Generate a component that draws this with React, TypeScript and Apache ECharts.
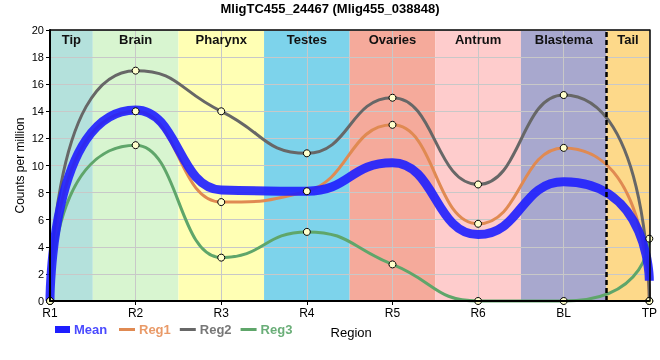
import React, { useEffect, useRef } from 'react';
import * as echarts from 'echarts';

const categories = ['R1', 'R2', 'R3', 'R4', 'R5', 'R6', 'BL', 'TP'];
const meanValues = [0, 14.1, 8.2, 8.1, 10.2, 4.9, 8.8, 1.5];
const reg1Values = [0, 14.0, 7.3, 8.1, 13.0, 5.7, 11.3, 0];
const reg2Values = [0, 17.0, 14.0, 10.9, 15.0, 8.6, 15.2, 0];
const reg3Values = [0, 11.5, 3.2, 5.1, 2.7, 0, 0, 4.6];

const bandNames = ['Tip', 'Brain', 'Pharynx', 'Testes', 'Ovaries', 'Antrum', 'Blastema', 'Tail'];
const bandFrom = [0, 0.5, 1.5, 2.5, 3.5, 4.5, 5.5, 6.5];
const bandTo = [0.5, 1.5, 2.5, 3.5, 4.5, 5.5, 6.5, 7];
const bandColors = ['#b4e1dc', '#d8f5d0', '#ffffb4', '#7dd3eb', '#f5aa9b', '#fecccc', '#a8a8ce', '#fdd98a'];
const tailBoundary = 6.5;

const FONT = '"Liberation Sans", Arial, sans-serif';

const toXY = (vals: number[]) => vals.map((v, i) => [i, v]);

// Smooth spline path through pixel points: flat at local extremes,
// neighbour-secant slope at monotone points, horizontal-length handles.
function splinePath(pts: number[][]): string {
  const n = pts.length;
  const L: number[][] = [];
  const R: number[][] = [];
  for (let i = 1; i < n - 1; i++) {
    const [x, y] = pts[i];
    const [px, py] = pts[i - 1];
    const [nx, ny] = pts[i + 1];
    let slope = 0;
    if ((y - py) * (ny - y) > 0) slope = (ny - py) / (nx - px);
    const kl = i === 1 ? 1.0 : 0.5;
    const kr = i === n - 2 ? 1.0 : 0.5;
    const hl = kl * (x - px);
    const hr = kr * (nx - x);
    let ly = y - slope * hl;
    let ry = y + slope * hr;
    const loP = Math.min(py, y), hiP = Math.max(py, y);
    if (ly < loP || ly > hiP) {
      ly = Math.min(hiP, Math.max(loP, ly));
      slope = hl ? (y - ly) / hl : 0;
      ry = y + slope * hr;
    }
    const loN = Math.min(ny, y), hiN = Math.max(ny, y);
    if (ry < loN || ry > hiN) {
      ry = Math.min(hiN, Math.max(loN, ry));
      slope = hr ? (ry - y) / hr : 0;
      ly = y - slope * hl;
    }
    L[i] = [x - hl, ly];
    R[i] = [x + hr, ry];
  }
  let d = `M${pts[0][0]},${pts[0][1]}`;
  for (let i = 1; i < n; i++) {
    const c0 = i - 1 === 0 ? pts[0] : R[i - 1];
    const c1 = i === n - 1 ? pts[n - 1] : L[i];
    d += ` C${c0[0]},${c0[1]} ${c1[0]},${c1[1]} ${pts[i][0]},${pts[i][1]}`;
  }
  return d;
}

export default function App() {
  const ref = useRef<HTMLDivElement>(null);
  useEffect(() => {
    if (!ref.current) return;
    const chart = echarts.init(ref.current, null, { renderer: 'svg' });
    const curveSeries = (name: string, vals: number[], color: string, width: number, z: number, opacity = 1) => ({
      name,
      type: 'custom',
      data: toXY(vals),
      xAxisIndex: 0,
      yAxisIndex: 0,
      z,
      silent: true,
      itemStyle: { color },
      renderItem: (params: any, api: any) => {
        if (params.dataIndex !== 0) return null;
        const pts = vals.map((v, i) => api.coord([i, v]));
        return {
          type: 'path',
          shape: { pathData: splinePath(pts) },
          style: { fill: 'none', stroke: color, lineWidth: width, opacity, lineJoin: 'round', lineCap: 'butt' },
        };
      },
    });
    const pointSeries = (name: string, vals: number[], extra: any = {}) => ({
      name,
      type: 'scatter',
      data: toXY(vals),
      symbol: 'circle',
      symbolSize: 7,
      xAxisIndex: 0,
      yAxisIndex: 0,
      z: 6,
      silent: true,
      itemStyle: { color: '#ffffcc', borderColor: '#000', borderWidth: 1, opacity: 1 },
      ...extra,
    });
    const option: any = {
      animation: false,
      textStyle: { fontFamily: FONT },
      title: {
        text: 'MligTC455_24467 (Mlig455_038848)',
        left: 'center',
        top: 2,
        padding: 0,
        textStyle: { fontSize: 13, fontWeight: 'bold', color: '#000', fontFamily: FONT },
      },
      grid: { left: 50, right: 9, top: 30, bottom: 59, containLabel: false },
      legend: [
        {
          data: [{ name: 'Mean', textStyle: { color: '#4a4aff' } }],
          left: 55,
          top: 323,
          padding: 0,
          icon: 'rect',
          itemWidth: 15,
          itemHeight: 7,
          itemGap: 9,
          selectedMode: false,
          textStyle: { fontSize: 13, fontWeight: 'bold', fontFamily: FONT, padding: [0, 0, 0, -1] },
        },
        {
          data: [
            { name: 'Reg1', textStyle: { color: '#e99a68' } },
            { name: 'Reg2', textStyle: { color: '#777777' } },
            { name: 'Reg3', textStyle: { color: '#6aae78' } },
          ],
          left: 119,
          top: 323,
          padding: 0,
          icon: 'rect',
          itemWidth: 16,
          itemHeight: 3,
          itemGap: 9,
          selectedMode: false,
          textStyle: { fontSize: 13, fontWeight: 'bold', fontFamily: FONT, padding: [0, 0, 0, -1] },
        },
      ],
      xAxis: [
        {
          type: 'value',
          min: 0,
          max: 7,
          interval: 1,
          position: 'bottom',
          z: 1,
          name: 'Region',
          nameLocation: 'middle',
          nameGap: 25,
          nameMoveOverlap: false,
          nameTextStyle: { fontSize: 13, color: '#000', fontFamily: FONT, padding: [0, 0, 0, 3] },
          axisLine: { show: false },
          axisTick: { show: true, length: 4, lineStyle: { color: '#000', width: 1 } },
          axisLabel: {
            formatter: (v: number) => categories[v] ?? '',
            fontSize: 12,
            color: '#000',
            margin: 6,
            fontFamily: FONT,
          },
          splitLine: { show: true, lineStyle: { color: '#c8c8c8', width: 1 } },
        },
        {
          type: 'value', min: 0, max: 7, position: 'bottom', z: 10,
          axisLine: { show: true, onZero: false, lineStyle: { color: '#000', width: 2 } },
          axisTick: { show: false }, axisLabel: { show: false }, splitLine: { show: false },
        },
        {
          type: 'value', min: 0, max: 7, position: 'top', z: 10,
          axisLine: { show: true, onZero: false, lineStyle: { color: '#000', width: 1.5 } },
          axisTick: { show: false }, axisLabel: { show: false }, splitLine: { show: false },
        },
      ],
      yAxis: [
        {
          type: 'value',
          min: 0,
          max: 20,
          interval: 2,
          position: 'left',
          z: 1,
          name: 'Counts per million',
          nameLocation: 'middle',
          nameGap: 24,
          nameMoveOverlap: false,
          nameTextStyle: { fontSize: 12, color: '#000', fontFamily: FONT },
          axisLine: { show: false },
          axisTick: { show: true, length: 4, lineStyle: { color: '#000', width: 1 } },
          axisLabel: { fontSize: 11, color: '#000', margin: 6, fontFamily: FONT },
          splitLine: { show: true, lineStyle: { color: '#c8c8c8', width: 1 } },
        },
        {
          type: 'value', min: 0, max: 20, position: 'left', z: 10,
          axisLine: { show: true, onZero: false, lineStyle: { color: '#000', width: 2 } },
          axisTick: { show: false }, axisLabel: { show: false }, splitLine: { show: false },
        },
        {
          type: 'value', min: 0, max: 20, position: 'right', z: 10,
          axisLine: { show: true, onZero: false, lineStyle: { color: '#000', width: 1.5 } },
          axisTick: { show: false }, axisLabel: { show: false }, splitLine: { show: false },
        },
      ],
      series: [
        curveSeries('Reg1', reg1Values, '#e08a52', 3, 3),
        curveSeries('Reg2', reg2Values, '#676767', 3, 3),
        curveSeries('Reg3', reg3Values, '#5fa66a', 3, 3),
        curveSeries('Mean', meanValues, '#1e1eff', 9, 4, 0.9),
        pointSeries('Reg1 points', reg1Values, {
          markArea: {
            silent: true,
            z: 0,
            label: { show: false },
            data: bandNames.map((n, i) => [
              { xAxis: bandFrom[i], itemStyle: { color: bandColors[i], opacity: 1 } },
              { xAxis: bandTo[i] },
            ]),
          },
        }),
        pointSeries('Reg2 points', reg2Values, {
          markArea: {
            silent: true,
            z: 5,
            itemStyle: { color: 'rgba(0,0,0,0)' },
            label: {
              show: true,
              position: 'insideTop',
              distance: 3,
              fontSize: 13,
              fontWeight: 'bold',
              color: '#111',
              fontFamily: FONT,
            },
            data: bandNames.map((n, i) => [{ name: n, xAxis: bandFrom[i] }, { xAxis: bandTo[i] }]),
          },
        }),
        pointSeries('Reg3 points', reg3Values, {
          markLine: {
            silent: true,
            symbol: 'none',
            z: 8,
            label: { show: false },
            lineStyle: { color: '#000', width: 2.5, type: [5, 3] },
            data: [{ xAxis: tailBoundary }],
          },
        }),
      ],
    };
    chart.setOption(option);
    return () => chart.dispose();
  }, []);
  return <div ref={ref} style={{ position: 'fixed', left: 0, top: 0, width: 660, height: 360 }} />;
}
